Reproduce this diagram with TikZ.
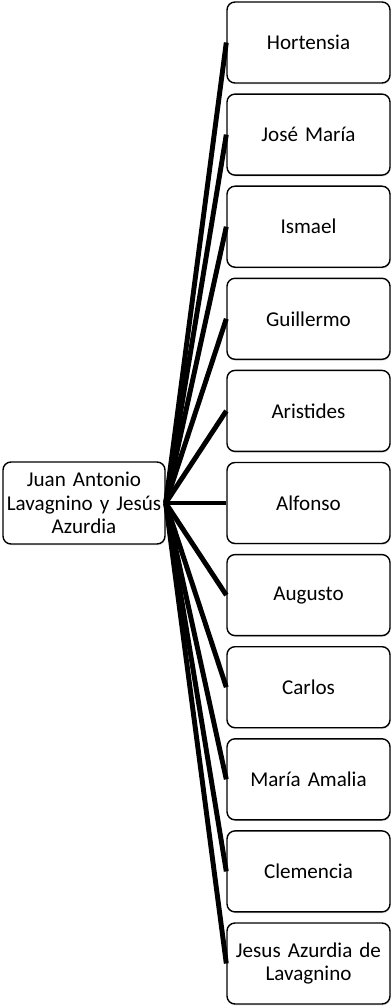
\documentclass[tikz,border=0pt]{standalone}
\usepackage{fontspec}
\setmainfont{Carlito}
\usetikzlibrary{positioning,shapes,shadows}

\begin{document}
\begin{tikzpicture}
		\useasboundingbox (0,0) rectangle (7.82,-20.12);
		\begin{scope}[every node/.style={rectangle,rounded corners=0.16cm,draw,line width=0.8pt,fill=white,align=center,
				font=\fontsize{12}{13.2}\selectfont,drop shadow={opacity=0.2,shadow xshift=0.4pt,shadow yshift=-0.8pt}}]
			\node[minimum width=3.24cm, minimum height=1.64cm, text width=3.22cm, inner sep=0pt] (root) at (1.68,-10.06) {Juan Antonio\\Lavagnino y Jesús\\Azurdia};
		\end{scope}
		\begin{scope}[every node/.style={rectangle,rounded corners=0.16cm,draw,line width=0.8pt,fill=white,align=center,
				minimum width=3.26cm, minimum height=1.62cm, text width=3.1cm, inner sep=0pt,
				font=\fontsize{12}{13.6}\selectfont,drop shadow={opacity=0.2,shadow xshift=0.4pt,shadow yshift=-0.8pt}}]
			\node (h1) at (6.17,-0.85) {Hortensia};
			\node (h2) at (6.17,-2.692) {José María};
			\node (h3) at (6.17,-4.534) {Ismael};
			\node (h4) at (6.17,-6.376) {Guillermo};
			\node (h5) at (6.17,-8.218) {Aristides};
			\node (h6) at (6.17,-10.06) {Alfonso};
			\node (h7) at (6.17,-11.902) {Augusto};
			\node (h8) at (6.17,-13.744) {Carlos};
			\node (h9) at (6.17,-15.586) {María Amalia};
			\node (h10) at (6.17,-17.428) {Clemencia};
			\node (h11) at (6.17,-19.27) {Jesus Azurdia de\\Lavagnino};
		\end{scope}
		\begin{scope}[every path/.style={line width=2.8pt,black}]
			\path (root.east)
			edge (h1.west)
			edge (h2.west)
			edge (h3.west)
			edge (h4.west)
			edge (h5.west)
			edge (h6.west)
			edge (h7.west)
			edge (h8.west)
			edge (h9.west)
			edge (h10.west)
			edge (h11.west);
		\end{scope}
	\end{tikzpicture}
\end{document}
